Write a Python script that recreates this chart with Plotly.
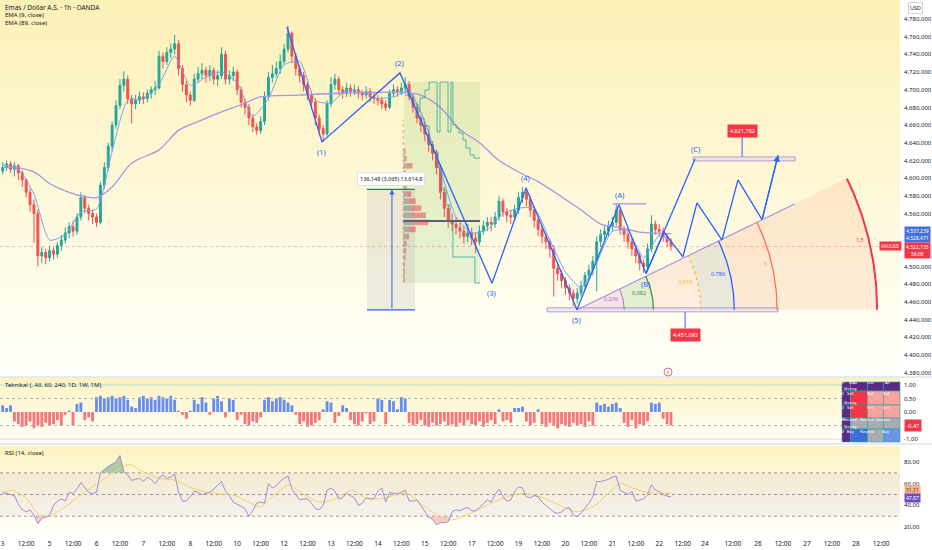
import math
import base64
import struct
import zlib
import numpy as np
import plotly.graph_objects as go

# ======================= DATA =======================
bar_hours = list(range(0, 344, 2))   # 2-hour bars, x = trading-hour index

opens = [4608,4612,4616,4610,4614,4606,4598,4584,4570,4560,
4512,4516,4510,4518,4514,4524,4530,4538,4545,4540,
4556,4578,4566,4560,4556,4550,4592,4612,4636,4660,
4682,4705,4712,4690,4684,4688,4692,4690,4696,4700,
4702,4738,4732,4742,4746,4752,4724,4706,4694,4688,
4712,4718,4722,4716,4722,4712,4716,4740,4712,4716,
4720,4700,4686,4680,4668,4658,4654,4664,4692,4714,
4718,4724,4732,4746,4764,4738,4724,4716,4706,4694,
4686,4668,4656,4650,4684,4706,4712,4700,4696,4702,
4698,4700,4696,4694,4698,4692,4690,4688,4684,4680,
4696,4700,4698,4702,4706,4692,4680,4668,4660,4650,
4638,4628,4612,4584,4566,4552,4548,4544,4540,4534,
4538,4532,4528,4540,4546,4550,4548,4556,4574,4562,
4558,4556,4564,4578,4584,4576,4564,4552,4542,4534,
4528,4520,4498,4492,4484,4476,4470,4464,4470,4478,
4490,4496,4506,4528,4536,4540,4546,4550,4564,4542,
4536,4528,4520,4512,4504,4500,4520,4548,4542,4540,
4534,4528]

closes = [4612,4616,4610,4614,4606,4598,4584,4570,4560,4512,
4516,4510,4518,4514,4524,4530,4538,4545,4540,4556,
4578,4566,4560,4556,4550,4592,4612,4636,4660,4682,
4705,4712,4690,4684,4688,4692,4690,4696,4700,4702,
4738,4732,4742,4746,4752,4724,4706,4694,4688,4712,
4718,4722,4716,4722,4712,4716,4740,4712,4716,4720,
4700,4686,4680,4668,4658,4654,4664,4692,4714,4718,
4724,4732,4746,4764,4738,4724,4716,4706,4694,4686,
4668,4656,4650,4684,4706,4712,4700,4696,4702,4698,
4700,4696,4694,4698,4692,4690,4688,4684,4680,4696,
4700,4698,4702,4706,4692,4680,4668,4660,4650,4638,
4628,4612,4584,4566,4552,4548,4544,4540,4534,4538,
4532,4528,4540,4546,4550,4548,4556,4574,4562,4558,
4556,4564,4578,4584,4576,4564,4552,4542,4534,4528,
4520,4498,4492,4484,4476,4470,4464,4470,4478,4490,
4496,4506,4528,4536,4540,4546,4550,4564,4542,4536,
4528,4520,4512,4504,4500,4520,4548,4542,4540,4534,
4528,4523]

highs = [4618,4620,4619,4618,4616,4609,4600,4588,4576,4565,
4522,4520,4523,4522,4528,4536,4544,4550,4552,4560,
4584,4581,4570,4564,4560,4596,4618,4640,4664,4688,
4712,4721,4716,4694,4694,4698,4697,4700,4704,4710,
4744,4742,4748,4752,4762,4756,4728,4710,4698,4718,
4726,4730,4726,4728,4725,4722,4748,4744,4722,4726,
4723,4704,4690,4684,4672,4662,4670,4698,4720,4728,
4732,4740,4752,4772,4766,4742,4728,4720,4710,4698,
4690,4672,4660,4688,4714,4718,4715,4704,4708,4706,
4706,4704,4700,4704,4702,4696,4694,4692,4688,4700,
4706,4704,4708,4714,4710,4696,4684,4672,4664,4654,
4642,4632,4616,4590,4570,4560,4556,4550,4546,4548,
4544,4538,4546,4552,4556,4556,4562,4580,4577,4566,
4564,4570,4584,4590,4588,4580,4568,4556,4546,4538,
4532,4524,4502,4496,4488,4480,4474,4476,4484,4494,
4502,4512,4534,4542,4546,4552,4556,4570,4566,4546,
4540,4532,4524,4516,4508,4526,4558,4552,4548,4544,
4538,4532]

lows = [4604,4608,4606,4602,4598,4590,4578,4562,4527,4500,
4504,4503,4506,4508,4510,4518,4526,4532,4534,4536,
4552,4560,4552,4548,4545,4548,4588,4608,4630,4656,
4678,4698,4684,4662,4678,4684,4684,4686,4690,4694,
4700,4724,4728,4736,4740,4716,4698,4686,4682,4686,
4708,4712,4708,4710,4706,4704,4712,4706,4706,4710,
4694,4680,4672,4660,4652,4649,4650,4660,4688,4708,
4714,4718,4728,4742,4730,4716,4708,4698,4688,4678,
4660,4648,4641,4648,4680,4700,4694,4690,4692,4692,
4694,4690,4688,4690,4686,4684,4682,4678,4676,4678,
4692,4692,4694,4698,4688,4674,4662,4652,4642,4630,
4620,4604,4576,4556,4544,4540,4536,4532,4526,4528,
4524,4515,4524,4536,4540,4540,4544,4552,4556,4550,
4548,4552,4560,4572,4568,4556,4544,4534,4526,4520,
4510,4466,4484,4476,4468,4462,4455,4458,4466,4474,
4486,4490,4472,4522,4530,4534,4540,4546,4536,4528,
4520,4512,4504,4496,4493,4496,4516,4536,4534,4528,
4522,4518]

ema9_x = [0,8,16,24,32,40,48,56,64,72,80,88,96,104,112,120,128,136,144,152,160,168,
          176,184,192,200,208,216,224,232,240,248,256,264,272,280,288,296,304,312,320,328,336,342]
ema9_y = [4612,4610,4582,4530,4536,4562,4565,4630,4688,4690,4706,4738,4705,4714,4720,4708,
          4670,4690,4728,4732,4688,4685,4700,4697,4690,4692,4698,4664,4610,4556,4538,4542,
          4560,4566,4566,4530,4494,4476,4505,4540,4540,4510,4535,4528.5]

ema89_x = [0,16,24,34,42,48,56,66,80,90,100,112,122,132,152,172,204,214,224,234,244,254,
           264,274,286,296,306,316,326,342]
ema89_y = [4615,4607,4594,4584,4579,4578,4590,4617,4632,4654,4664,4675,4683,4692,4694,4696,
           4697,4694,4680,4655,4640,4620,4607,4596,4579,4564,4548,4544,4539,4537.2]

tech_rating = [0.25,0.15,0.25,-0.35,-0.45,-0.55,-0.5,-0.35,-0.6,-0.5,
-0.55,-0.4,-0.5,-0.45,-0.3,-0.5,-0.1,0.05,-0.5,0.3,
0.35,-0.3,-0.2,-0.35,0.55,0.6,0.5,0.55,0.6,0.5,
0.55,0.6,0.45,0.2,0.15,0.55,0.6,0.5,0.55,0.45,
0.6,0.55,0.5,0.6,0.45,0.05,-0.1,-0.25,0.05,0.45,
0.3,0.55,0.35,-0.1,0.5,0.6,0.4,-0.2,0.5,0.45,
-0.3,-0.1,-0.45,-0.5,-0.35,-0.4,-0.2,0.45,0.55,0.4,
0.5,0.55,0.45,0.35,0.25,-0.1,-0.45,-0.35,-0.55,-0.5,
-0.4,-0.3,0.1,0.4,0.35,-0.4,-0.15,0.25,0.15,-0.3,
-0.45,-0.5,-0.35,-0.05,-0.45,-0.35,0.5,0.45,-0.45,0.45,
0.4,0.1,0.55,0.5,-0.4,-0.5,-0.45,-0.3,-0.5,-0.55,
-0.4,-0.5,-0.45,-0.35,-0.5,-0.45,-0.55,-0.4,-0.5,-0.3,
-0.45,-0.5,-0.35,-0.55,-0.4,-0.3,-0.45,0.1,-0.35,-0.3,
-0.4,0.15,0.15,0.2,-0.35,-0.5,-0.4,0.1,-0.45,-0.55,
-0.4,-0.5,-0.6,-0.45,-0.5,-0.55,-0.4,-0.5,-0.45,-0.55,
-0.35,-0.5,0.35,0.25,0.3,0.2,0.3,0.35,0.15,-0.4,
-0.55,-0.3,-0.6,-0.45,-0.5,-0.35,0.35,0.3,0.35,-0.25,
-0.45,-0.5]

rsi_vals = [52,51,50.5,49,41,36,34,35.7,31,23,
28,29,31,40,44,46,44,52,51,55,
61,57,52,51,52,70,73,76,78,80,
86,71,68,63,64,65,62,66,64,60,
65,68,65,66,69,52,44,44,48,53,
52,50,51,52,55,59,62,53,49,43,
41,39,37,30,35,42,43,42,60,56,
58,62,65,67,55,50,45,46,46,42,
37,36,40,54,56,53,46,47,51,49,
47,40,42,47,46,46,53,56,43,52,
51,51,52,54,44,44,45,40,35,29,
27,22,24,24,25,34,36,35,37,38,
35,35,38,42,45,43,50,55,48,44,
45,53,57,56,48,47,49,48,43,40,
37,34,32.5,34,37,38,31,29.5,33,37,
42,48,62,62,63,64,66,67,54,52,
50,53,44,45,46,50,59,54,52.6,50,
48.5,47.87]

rsi_ma_x = [0,5,12,19,24,33,41,50,60,65,70,80,89,97,108,118,126,132,138,147,152,162,169,175,
            179,186,195,207,217,229,241,251,261,266,275,285,294,302,311,316,321,328,335,342]
rsi_ma_y = [51,54,46.5,31,30.5,40,51,62,74,78,72.6,65,63,55.7,51,49.5,43,38.8,48,58.8,52.6,43,
            45,51,54,46.5,46.5,51,37,26.5,34,43,49.5,51,48,40,34,38.8,52.6,60,57,52.6,51,51.51]

tick_x = [0,12,24,36,48,60,72,84,96,108,120,132,144,156,168,180,192,204,216,228,240,252,264,
          276,288,300,312,324,336,348,359.4,373.7,386.5,399.3,411.6,424.4,436.7,449.5]
tick_text = ["3","12:00","5","12:00","6","12:00","7","12:00","8","12:00","10","12:00","12",
             "12:00","13","12:00","14","12:00","15","12:00","17","12:00","19","12:00","20",
             "12:00","21","12:00","22","12:00","24","12:00","26","12:00","27","12:00","28","12:00"]
last_tick_x, last_tick_text = 460.8, "2"

# price scale labels (4.520 and 4.540 are hidden behind the live value boxes)
price_ticks = [4380, 4400, 4420, 4440, 4460, 4480, 4500, 4560, 4580, 4600, 4620, 4640, 4660,
               4680, 4700, 4720, 4740, 4760, 4780]

# Elliott wave drawing
wave_x = [145.5, 163.4, 203.3, 250.4, 267.8, 293.9, 315.4, 329.2, 354.3]
wave_p = [4771, 4641, 4719, 4481, 4589, 4451.093, 4570, 4492, 4621.782]
wave_labels = ["", "(1)", "(2)", "(3)", "(4)", "(5)", "(A)", "(B)", "(C)"]
wave_below = [False, True, False, True, False, True, False, True, False]
proj_x = [329.2, 338.4, 348.1, 355.3, 368.1, 376.3, 388.6, 396.8]
proj_p = [4492, 4539, 4511, 4572, 4530, 4598, 4553, 4626]

# Fib wedge drawing
fib_levels = [0.236, 0.382, 0.618, 0.786, 1.0, 1.5]
fib_labels = ["0,236", "0,382", "0,618", "0,786", "1", "1,5"]
fib_unit_end_x = 396.3
wedge_ray_x, wedge_ray_p = 405.5, 4571

# other drawings
meas_x = [186.4, 211.0]
meas_p = [4451.093, 4587.241]
meas_arrow_x = 199.2
meas_text = "136,148 (3,065) 13.614,8"
zone_x = [205.4, 244.3]
zone_p = [4481.4, 4708.7]
comb_x = [211.5,213.6,216.1,218.2,222.3,223.8,227.9,229.4,230.4,232.0,233.5,235.6,237.1,239.2,241.2,244.3]
comb_p = [4674.8,4690.7,4699.7,4708.7,4652.2,4708.7,4652.2,4708.7,4660.1,4656.7,4651.1,4643.2,4634.1,4626.2,4622.8,4622.8]
stair_x = [205.9,209.5,212.5,215.6,218.2,220.2,222.8,224.8,226.9,228.9,230.4,241.7,244.3]
stair_p = [4694.0,4683.9,4668.0,4659.0,4637.5,4629.6,4611.5,4586.6,4569.6,4550.4,4510.8,4481.4,4481.4]
vp_x0 = 205.0
vp_price = [4630,4622,4614,4606,4598,4590,4582,4574,4566,4558,4550,4542,4534,4526,4518,4510,4502,4494,4486]
vp_buy = [1,2,3,1,1,2,3,5,7,8,9,5,3,2,1.5,1,1,1,1]
vp_sell = [1,1,5,1,1,1,4,6,9,12,13,6,2,1,1,1,0.5,0.5,0.5]
poc_price = 4551.5
base_x = [278.6, 396.8]
base_p = [4448.8, 4453.3]
a_line_x = [312.3, 329.2]
a_line_p = 4570.8
target_x = [353.3, 405.5]
target_conn_x = 378.4
low_conn_x = 349.2

last_price = 4522.735
ema89_last, ema9_last = 4537.239, 4528.471
countdown = "56:08"
tech_last = -0.47
rsi_ma_last, rsi_last = 51.51, 47.87

table_cells = [["TF", "MAs", "Osc", "All"],
               ["60", "Strong<br>Sell", "Sell", "Sell"],
               ["1D", "Strong<br>Sell", "Sell", "Sell"],
               ["1W", "Neutral", "Neutral", "Neutral"],
               ["1M", "Strong<br>Buy", "Neutral", "Buy"]]

for arr in (opens, closes, highs, lows, tech_rating, rsi_vals):
    assert len(arr) == len(bar_hours), len(arr)

# ======================= LAYOUT CONSTANTS =======================
W, H = 932, 550
MR, MB = 32, 18
PW, PH = W - MR, H - MB
X0, X1 = -1.38, 459.2
YM0, YM1 = 4376.2, 4801.5
YT0, YT1 = -1.11, 1.26
YR0, YR1 = 15.4, 94.8
MAIN_PX, TECH_PX, RSI_PX = (0, 376), (378, 442), (446, 532)
PX_PER_X = PW / (X1 - X0)
PX_PER_Y = (MAIN_PX[1] - MAIN_PX[0]) / (YM1 - YM0)
FONT = "Noto Sans"
TXT = "#131722"
UP, DOWN = "#26a69a", "#ef5350"
BLUE = "#2962ff"


def dom(p):
    return [1 - p[1] / PH, 1 - p[0] / PH]


def py(v):
    return 1 - v / PH


def px(v):
    return v / PW


def fmt(v, d):
    s = f"{v:,.{d}f}"
    return s.replace(",", "_").replace(".", ",").replace("_", ".")


def gradient_png(top_rgb, bot_rgb, n=64):
    rows = []
    for i in range(n):
        t = i / (n - 1)
        rows.append(bytes(int(round(top_rgb[k] + (bot_rgb[k] - top_rgb[k]) * t)) for k in range(3)))
    raw = b"".join(b"\x00" + r for r in rows)

    def chunk(tag, data):
        return (struct.pack(">I", len(data)) + tag + data +
                struct.pack(">I", zlib.crc32(tag + data) & 0xffffffff))
    png = (b"\x89PNG\r\n\x1a\n" + chunk(b"IHDR", struct.pack(">IIBBBBB", 1, n, 8, 2, 0, 0, 0)) +
           chunk(b"IDAT", zlib.compress(raw)) + chunk(b"IEND", b""))
    return "data:image/png;base64," + base64.b64encode(png).decode()


fig = go.Figure()
shapes = []
annotations = []


def add(tr):
    fig.add_trace(tr)


def line(xs, ys, color, width=1, dash="solid", xa="x", ya="y", shape="linear", smooth=None):
    ld = dict(color=color, width=width, dash=dash, shape=shape)
    if smooth is not None:
        ld["smoothing"] = smooth
    add(go.Scatter(x=xs, y=ys, xaxis=xa, yaxis=ya, mode="lines", line=ld, hoverinfo="skip"))


def below_rect(xs, ps, fill, lc=None, lw=0, xref="x", yref="y"):
    shapes.append(dict(type="rect", xref=xref, yref=yref, x0=xs[0], x1=xs[1], y0=ps[0], y1=ps[1],
                       fillcolor=fill, layer="below",
                       line=dict(width=lw, color=lc or "rgba(0,0,0,0)")))


def below_path(xs, ys, fill):
    d = "M " + " L ".join(f"{a:.3f},{b:.3f}" for a, b in zip(xs, ys)) + " Z"
    shapes.append(dict(type="path", xref="x", yref="y", path=d, fillcolor=fill, layer="below",
                       line=dict(width=0)))


# ---- pane backgrounds (vertical gradient images) ----
images = []
for (top_px, bot_px), top_rgb in [(MAIN_PX, (253, 241, 184)), (TECH_PX, (253, 243, 194)),
                                  (RSI_PX, (253, 243, 194))]:
    images.append(dict(source=gradient_png(top_rgb, (255, 255, 250)), xref="paper", yref="paper",
                       x=0, y=py(top_px), sizex=1, sizey=(bot_px - top_px) / PH,
                       xanchor="left", yanchor="top", sizing="stretch", layer="below"))

# ---- drawing fills (below traces) ----
below_rect(zone_x, zone_p, "rgba(76,175,80,0.13)")
below_rect(meas_x, meas_p, "rgba(120,123,134,0.13)")

cx, cy = wave_x[5], wave_p[5]
r1 = (fib_unit_end_x - cx) * PX_PER_X
tmax = math.atan2((wedge_ray_p - cy) * PX_PER_Y, (wedge_ray_x - cx) * PX_PER_X)


def arc(L, n=48):
    th = np.linspace(0, tmax, n)
    return (cx + L * r1 * np.cos(th) / PX_PER_X, cy + L * r1 * np.sin(th) / PX_PER_Y)


sector_fill = ["rgba(171,71,188,0.13)", "rgba(76,175,80,0.16)", "rgba(242,54,69,0.08)",
               "rgba(120,123,134,0.15)", "rgba(255,112,67,0.14)", "rgba(255,112,67,0.12)"]
arc_color = ["#ba68c8", "#388e3c", "#f9c02a", "#2962ff", "#ff6e56", "#f23645"]
arc_dash = ["solid", "solid", "dot", "solid", "solid", "solid"]
arc_w = [1, 1.2, 1.3, 1.3, 1.3, 2]
bounds = [0] + fib_levels
for k in range(len(fib_levels)):
    ox, oy = arc(bounds[k + 1])
    if bounds[k] == 0:
        ix, iy = np.array([cx]), np.array([cy])
    else:
        ix, iy = arc(bounds[k])
        ix, iy = ix[::-1], iy[::-1]
    below_path(np.concatenate([ox, ix]), np.concatenate([oy, iy]), sector_fill[k])

below_rect(base_x, base_p, "rgba(179,157,219,0.18)", "#b39ddb", 1)
below_rect(target_x, [wave_p[8] - 2.2, wave_p[8] + 2.2], "rgba(179,157,219,0.18)", "#b39ddb", 1)
below_rect([X0, X1], [30, 70], "rgba(126,87,194,0.07)", xref="x3", yref="y3")

# ---- volume profile ----
VP_SCALE = 0.58
add(go.Bar(orientation="h", y=vp_price, x=[v * VP_SCALE for v in vp_buy], base=vp_x0,
           width=6.3, marker=dict(color="rgba(120,123,134,0.5)", line=dict(width=0)),
           xaxis="x", yaxis="y", hoverinfo="skip"))
add(go.Bar(orientation="h", y=vp_price, x=[v * VP_SCALE for v in vp_sell],
           base=[vp_x0 + b * VP_SCALE for b in vp_buy], width=6.3,
           marker=dict(color="rgba(242,54,69,0.5)", line=dict(width=0)),
           xaxis="x", yaxis="y", hoverinfo="skip"))
line([vp_x0, vp_x0], [zone_p[0], 4666], "rgba(242,120,80,0.7)", 1, "dot")

# ---- current price line ----
line([X0, X1], [last_price, last_price], "rgba(242,54,69,0.35)", 1, "dot")

# ---- candles ----
add(go.Candlestick(x=bar_hours, open=opens, high=highs, low=lows, close=closes,
                   xaxis="x", yaxis="y", whiskerwidth=0,
                   increasing=dict(line=dict(color=UP, width=1), fillcolor=UP),
                   decreasing=dict(line=dict(color=DOWN, width=1), fillcolor=DOWN),
                   hoverinfo="skip"))

# ---- EMAs ----
line(ema89_x, ema89_y, "#a995e3", 1.3, shape="spline", smooth=0.8)
line(ema9_x, ema9_y, "#7aa2f0", 1, shape="spline", smooth=0.6)

# ---- teal step lines & POC ----
line(comb_x, comb_p, "rgba(38,166,154,0.75)", 1, shape="hv")
line(stair_x, stair_p, "rgba(38,166,154,0.75)", 1, shape="hv")
line([vp_x0, zone_x[1]], [poc_price, poc_price], "#5d606b", 2)

# ---- measurement tool ----
line(meas_x, [meas_p[1], meas_p[1]], BLUE, 1.2)
line(meas_x, [meas_p[0], meas_p[0]], BLUE, 1.2)

# ---- fib wedge lines ----
line([cx, wedge_ray_x], [cy, wedge_ray_p], "#a68fe0", 1.1)
for k, L in enumerate(fib_levels):
    ax_, ay_ = arc(L)
    line(ax_, ay_, arc_color[k], arc_w[k], arc_dash[k])

# ---- wave lines ----
line([a_line_x[0], a_line_x[1]], [a_line_p, a_line_p], "#a68fe0", 1.2)
line(wave_x, wave_p, BLUE, 1.3)
line(proj_x, proj_p, BLUE, 1.3)
line([target_conn_x, target_conn_x], [wave_p[8] + 2.2, wave_p[8] + 24], BLUE, 1)
line([low_conn_x, low_conn_x], [base_p[0], wave_p[5] - 21], BLUE, 1)

# ---- Teknikal pane ----
add(go.Bar(x=bar_hours, y=tech_rating, xaxis="x2", yaxis="y2", width=1.45,
           marker=dict(color=["rgba(41,98,255,0.72)" if v >= 0 else "rgba(242,54,69,0.68)"
                              for v in tech_rating], line=dict(width=0)),
           hoverinfo="skip"))

# ---- RSI pane ----
rsi_arr = np.array(rsi_vals)
add(go.Scatter(x=bar_hours, y=[70] * len(bar_hours), xaxis="x3", yaxis="y3", mode="lines",
               line=dict(width=0), hoverinfo="skip"))
add(go.Scatter(x=bar_hours, y=np.maximum(rsi_arr, 70), xaxis="x3", yaxis="y3", mode="lines",
               line=dict(width=0), fill="tonexty", fillcolor="rgba(80,150,110,0.45)",
               hoverinfo="skip"))
add(go.Scatter(x=bar_hours, y=[30] * len(bar_hours), xaxis="x3", yaxis="y3", mode="lines",
               line=dict(width=0), hoverinfo="skip"))
add(go.Scatter(x=bar_hours, y=np.minimum(rsi_arr, 30), xaxis="x3", yaxis="y3", mode="lines",
               line=dict(width=0), fill="tonexty", fillcolor="rgba(242,54,69,0.25)",
               hoverinfo="skip"))
for lvl in (70, 50, 30):
    line([X0, X1], [lvl, lvl], "#9598a1", 1, "dot", "x3", "y3")
line(rsi_ma_x, rsi_ma_y, "#f6d365", 1, xa="x3", ya="y3", shape="spline", smooth=0.8)
line(bar_hours, rsi_vals, "#a08ed6", 1, xa="x3", ya="y3")

# ======================= SHAPES =======================
for yv, col, dash in [(1, "#b2dfdb", "solid"), (0.5, "#b2b5be", "dot"), (-0.5, "#b2b5be", "dot"),
                      (-1, "#f8c9cc", "solid")]:
    shapes.append(dict(type="line", xref="paper", yref="y2", x0=0, x1=1, y0=yv, y1=yv,
                       line=dict(color=col, width=1, dash=dash)))
for ysep in (377, 444):
    shapes.append(dict(type="line", xref="paper", yref="paper", x0=0, x1=W / PW,
                       y0=py(ysep), y1=py(ysep), line=dict(color="#e0e3eb", width=1.5)))

# table
tbl_cols = [842, 850.5, 867.5, 883.5, 900]
tbl_rows = [382, 391, 405, 418, 429, 442]
cell_bg = {"Strong<br>Sell": "#f23645", "Sell": "#f7a39f", "Neutral": "#a9abb3",
           "Strong<br>Buy": "#3b6fd8", "Buy": "#6b94ea"}
for r, row in enumerate(table_cells):
    for c, val in enumerate(row):
        bg = "#5b2a86" if (r == 0 or c == 0) else cell_bg[val]
        shapes.append(dict(type="rect", xref="paper", yref="paper",
                           x0=px(tbl_cols[c]), x1=px(tbl_cols[c + 1]),
                           y0=py(tbl_rows[r + 1]), y1=py(tbl_rows[r]),
                           fillcolor=bg, line=dict(color="#26a69a", width=0.6)))
        annotations.append(dict(x=px((tbl_cols[c] + tbl_cols[c + 1]) / 2),
                                y=py((tbl_rows[r] + tbl_rows[r + 1]) / 2),
                                xref="paper", yref="paper", text=val, showarrow=False,
                                font=dict(size=4, color="white", family=FONT)))

# event marker circle
shapes.append(dict(type="circle", xref="x", yref="paper", xsizemode="pixel", ysizemode="pixel",
                   xanchor=340.5, yanchor=py(372), x0=-4, x1=4, y0=-4, y1=4,
                   line=dict(color="#e06a9a", width=1), fillcolor="white"))


# ======================= ANNOTATIONS =======================
def txt(x, y, text, xref="paper", yref="paper", size=7, color=TXT, xanchor="left",
        yanchor="middle", **kw):
    annotations.append(dict(x=x, y=y, xref=xref, yref=yref, text=text, showarrow=False,
                            font=dict(size=size, color=color, family=FONT),
                            xanchor=xanchor, yanchor=yanchor, **kw))


txt(px(3), py(7), "Emas / Dollar A.S. · 1h · OANDA", size=6.5)
txt(px(3), py(15), "EMA (9, close)", size=6)
txt(px(3), py(23), "EMA (89, close)", size=6)
txt(px(3), py(385), "Teknikal (, All, 60, 240, 1D, 1W, 1M)", size=6)
txt(px(3), py(453), "RSI (14, close)", size=6)
txt(px(915), py(8), "USD", size=5.5, xanchor="center", bgcolor="white",
    bordercolor="#d1d4dc", borderwidth=1, borderpad=1)
txt(340.5, py(372), "⚡", xref="x", size=4.5, color="#e06a9a", xanchor="center")

# wave labels
for i in range(1, len(wave_x)):
    annotations.append(dict(x=wave_x[i], y=wave_p[i], xref="x", yref="y", text=wave_labels[i],
                            showarrow=False, font=dict(size=7.5, color=BLUE, family=FONT),
                            yshift=-10 if wave_below[i] else 10))

# projection arrow
annotations.append(dict(x=proj_x[-1], y=proj_p[-1], ax=proj_x[-2], ay=proj_p[-2], xref="x",
                        yref="y", axref="x", ayref="y", text="", showarrow=True, arrowhead=2,
                        arrowsize=1, arrowwidth=1.3, arrowcolor=BLUE))
# measurement arrow + label
annotations.append(dict(x=meas_arrow_x, y=meas_p[1], ax=meas_arrow_x, ay=meas_p[0], xref="x",
                        yref="y", axref="x", ayref="y", text="", showarrow=True, arrowhead=2,
                        arrowsize=1, arrowwidth=1, arrowcolor=BLUE))
annotations.append(dict(x=(meas_x[0] + meas_x[1]) / 2, y=meas_p[1] + 12, xref="x", yref="y",
                        text=meas_text, showarrow=False, bgcolor="white", bordercolor="#e0e3eb",
                        borderwidth=1, borderpad=2, font=dict(size=5.5, color=TXT, family=FONT)))

# fib labels
th_lab = math.radians(13.5)
for k, L in enumerate(fib_levels):
    rr = L * r1 - 3
    annotations.append(dict(x=cx + rr * math.cos(th_lab) / PX_PER_X,
                            y=cy + rr * math.sin(th_lab) / PX_PER_Y, xref="x", yref="y",
                            text=fib_labels[k], showarrow=False, xanchor="right",
                            font=dict(size=5.5, color=arc_color[k], family=FONT)))

# price labels of drawings
annotations.append(dict(x=target_conn_x, y=wave_p[8] + 31, xref="x", yref="y",
                        text=fmt(wave_p[8], 3), showarrow=False, bgcolor="#f23645",
                        borderpad=2, font=dict(size=5.5, color="white", family=FONT)))
annotations.append(dict(x=low_conn_x, y=wave_p[5] - 29, xref="x", yref="y",
                        text=fmt(wave_p[5], 3), showarrow=False, bgcolor="#f23645",
                        borderpad=2, font=dict(size=5.5, color="white", family=FONT)))

# right-axis value boxes
txt(px(904), py(234.5), fmt(ema89_last, 3) + "<br>" + fmt(ema9_last, 3), size=5,
    color="white", bgcolor="#4471d9", borderpad=1)
txt(px(904), py(250.5), fmt(last_price, 3) + "<br>" + countdown, size=5, color="white",
    bgcolor="#f23645", borderpad=1)
txt(px(902), py(245.5), "XAUUSD", size=4.6, color="white", bgcolor="#f23645", xanchor="right",
    borderpad=1)
txt(px(904), py(425), fmt(tech_last, 2), size=5.5, color="white", bgcolor="#f23645",
    borderpad=1.5)
txt(px(904), py(489.5), fmt(rsi_ma_last, 2), size=5, color="#7a3b18", bgcolor="#f9b08f",
    borderpad=1)
txt(px(904), py(498), fmt(rsi_last, 2), size=5, color="white", bgcolor="#6f4cc0",
    borderpad=1)
# last date label beyond the plot edge
annotations.append(dict(x=last_tick_x, y=py(543), xref="x", yref="paper", text=last_tick_text,
                        showarrow=False, font=dict(size=6.5, color=TXT, family=FONT)))

# ======================= AXES =======================
common_x = dict(range=[X0, X1], showgrid=False, zeroline=False, showline=False, ticks="",
                fixedrange=True)
ycommon = dict(side="right", showgrid=False, zeroline=False, showline=False, ticks="",
               tickfont=dict(size=6, color=TXT, family=FONT), ticklabelstandoff=3,
               fixedrange=True)

fig.update_layout(
    width=W, height=H, margin=dict(l=0, r=MR, t=0, b=MB),
    paper_bgcolor="white", plot_bgcolor="rgba(0,0,0,0)", showlegend=False, hovermode=False,
    barmode="overlay", font=dict(family=FONT, color=TXT),
    xaxis=dict(common_x, domain=[0, 1], anchor="y", showticklabels=False,
               rangeslider=dict(visible=False)),
    xaxis2=dict(common_x, domain=[0, 1], anchor="y2", matches="x", showticklabels=False),
    xaxis3=dict(common_x, domain=[0, 1], anchor="y3", matches="x", showticklabels=True,
                tickmode="array", tickvals=tick_x, ticktext=tick_text,
                tickfont=dict(size=6.5, color=TXT, family=FONT), ticklabelstandoff=6),
    yaxis=dict(ycommon, domain=dom(MAIN_PX), range=[YM0, YM1], anchor="x", tickmode="array",
               tickvals=price_ticks, ticktext=[fmt(v, 3) for v in price_ticks]),
    yaxis2=dict(ycommon, domain=dom(TECH_PX), range=[YT0, YT1], anchor="x2", tickmode="array",
                tickvals=[1, 0.5, 0, -1], ticktext=["1,00", "0,50", "0,00", "-1,00"]),
    yaxis3=dict(ycommon, domain=dom(RSI_PX), range=[YR0, YR1], anchor="x3", tickmode="array",
                tickvals=[20, 40, 60, 80], ticktext=["20,00", "40,00", "60,00", "80,00"]),
    shapes=shapes, annotations=annotations, images=images,
)

fig.write_html("out.html", config={"displayModeBar": False, "staticPlot": True},
               post_script="document.body.style.margin='0';document.body.style.overflow='hidden';")
